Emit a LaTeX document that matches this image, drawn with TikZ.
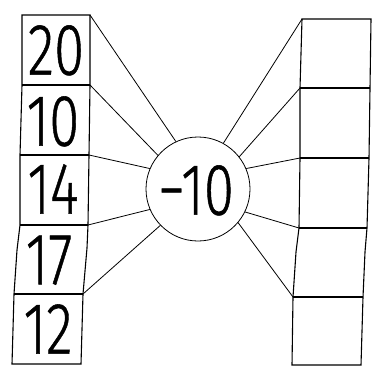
\documentclass[tikz,border=0pt]{standalone}
\usepackage{fontspec}
\setmainfont{Fira Sans}[UprightFont={* Light},UprightFeatures={FakeBold=0.8}]
\begin{document}
\begin{tikzpicture}[x=1pt,y=-1pt,
  boxline/.style={line width=1.1pt},
  conn/.style={line width=0.8pt},
  num/.style={inner sep=0pt,text depth=0pt,xscale=0.75,font=\fontsize{73}{73}\selectfont},
  hub/.style={circle,draw,line width=0.8pt,minimum size=104pt,inner sep=0pt}]
\useasboundingbox[fill=white] (0,0) rectangle (374,372);
% left column corners
\coordinate (la0) at (22,15);  \coordinate (ra0) at (90,15);
\coordinate (la1) at (22,85);  \coordinate (ra1) at (90,85);
\coordinate (la2) at (20,155); \coordinate (ra2) at (89,155);
\coordinate (la3) at (20,225); \coordinate (ra3) at (88,225);
\coordinate (la4) at (14,294); \coordinate (ra4) at (83,294);
\coordinate (la5) at (12,364); \coordinate (ra5) at (81,364);
% right column corners
\coordinate (lb0) at (302,19); \coordinate (rb0) at (371,19);
\coordinate (lb1) at (300,88); \coordinate (rb1) at (370,88);
\coordinate (lb2) at (300,158);\coordinate (rb2) at (369,158);
\coordinate (lb3) at (299,228);\coordinate (rb3) at (367,228);
\coordinate (lb4) at (293,297);\coordinate (rb4) at (363,297);
\coordinate (lb5) at (292,365);\coordinate (rb5) at (361,365);
% left boxes
\draw[boxline] (la0) -- (ra0) -- (ra1) -- (ra2) -- (ra3) -- (87,248) -- (ra4) -- (ra5) -- (la5) -- (la4) -- (17,250) -- (la3) -- (la2) -- (la1) -- cycle;
\draw[boxline] (la1) -- (ra1);
\draw[boxline] (la2) -- (ra2);
\draw[boxline] (la3) -- (ra3);
\draw[boxline] (la4) -- (ra4);
% right boxes
\draw[boxline] (lb0) -- (rb0) -- (rb1) -- (rb2) -- (rb3) -- (365,252) -- (rb4) -- (rb5) -- (lb5) -- (lb4) -- (296,252) -- (lb3) -- (lb2) -- (lb1) -- cycle;
\draw[boxline] (lb1) -- (rb1);
\draw[boxline] (lb2) -- (rb2);
\draw[boxline] (lb3) -- (rb3);
\draw[boxline] (lb4) -- (rb4);
% hub
\node[hub] (c) at (198,189) {};
\node[num] (op) at (196,190) {−10};
% numbers
\node[num] (n0) at (56,50) {20};
\node[num] (n1) at (53,121) {10};
\node[num] (n2) at (53,189) {14};
\node[num] (n3) at (49,260) {17};
\node[num] (n4) at (48,329) {12};
% connectors
\draw[conn] (ra0) -- (c.115);
\draw[conn] (ra1) -- (c.140);
\draw[conn] (ra2) -- (c.157);
\draw[conn] (ra3) -- (c.203);
\draw[conn] (ra4) -- (c.224);
\draw[conn] (lb0) -- (c.61);
\draw[conn] (lb1) -- (c.38);
\draw[conn] (lb2) -- (c.23);
\draw[conn] (lb3) -- (c.-26);
\draw[conn] (lb4) -- (c.-40);
\end{tikzpicture}
\end{document}
